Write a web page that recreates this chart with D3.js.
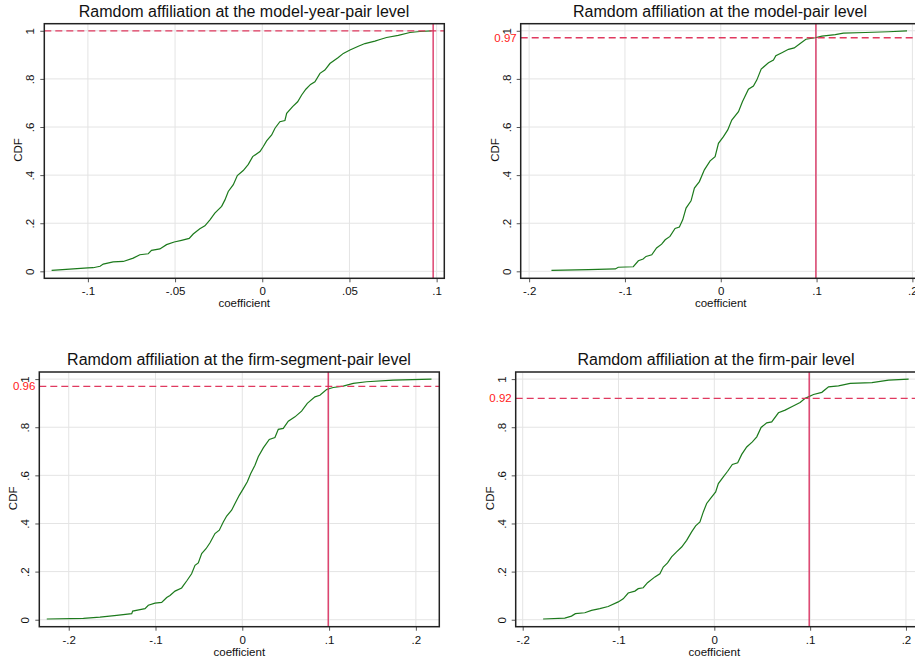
<!DOCTYPE html>
<html>
<head>
<meta charset="utf-8">
<script src="https://cdn.jsdelivr.net/npm/d3@7"></script>
<style>
  body { margin: 0; background: #fff; }
  svg { display: block; font-family: "Liberation Sans", Arial, Helvetica, sans-serif; }
</style>
</head>
<body>
<svg id="chart" width="915" height="664"></svg>
<script>
// titles, one per panel
var titles = [
  "Ramdom affiliation at the model-year-pair level",
  "Ramdom affiliation at the model-pair level",
  "Ramdom affiliation at the firm-segment-pair level",
  "Ramdom affiliation at the firm-pair level"
];

// CDF curves: [coefficient, cdf]
var cdfModelYear = [
  [-0.1208,0.004],[-0.1,0.014],[-0.097,0.015],[-0.093,0.021],[-0.0912,0.030],[-0.0855,0.039],
  [-0.0797,0.041],[-0.074,0.055],[-0.0702,0.069],[-0.0654,0.073],[-0.0635,0.087],[-0.0587,0.093],
  [-0.0549,0.111],[-0.0505,0.122],[-0.0463,0.129],[-0.0419,0.137],[-0.0396,0.155],[-0.0358,0.177],
  [-0.0329,0.189],[-0.030,0.214],[-0.0272,0.242],[-0.0233,0.270],[-0.0214,0.297],[-0.0195,0.332],
  [-0.0166,0.360],[-0.0143,0.398],[-0.0109,0.419],[-0.0080,0.445],[-0.0055,0.477],[-0.0013,0.498],
  [0.0006,0.519],[0.0025,0.542],[0.0054,0.567],[0.0073,0.595],[0.0101,0.622],[0.013,0.627],
  [0.014,0.657],[0.0174,0.685],[0.0203,0.705],[0.0226,0.733],[0.025,0.757],[0.0277,0.777],
  [0.0302,0.788],[0.0331,0.823],[0.0359,0.837],[0.0388,0.864],[0.0436,0.889],[0.0465,0.906],
  [0.0503,0.920],[0.0551,0.936],[0.0589,0.947],[0.0646,0.957],[0.0675,0.964],[0.0713,0.972],
  [0.078,0.981],[0.0847,0.993],[0.0904,0.997],[0.0971,1.0]
];
var cdfModel = [
  [-0.1767,0.004],[-0.138,0.007],[-0.110,0.010],[-0.107,0.017],[-0.0913,0.019],[-0.086,0.044],
  [-0.081,0.051],[-0.078,0.062],[-0.072,0.069],[-0.067,0.097],[-0.0617,0.113],[-0.058,0.131],
  [-0.053,0.145],[-0.0477,0.178],[-0.0432,0.184],[-0.0397,0.214],[-0.0362,0.263],[-0.031,0.293],
  [-0.0275,0.346],[-0.0223,0.373],[-0.0171,0.422],[-0.0111,0.459],[-0.0059,0.477],[-0.0024,0.532],
  [0.0028,0.560],[0.0073,0.588],[0.0115,0.629],[0.0185,0.664],[0.0226,0.705],[0.0289,0.757],
  [0.0341,0.770],[0.0376,0.795],[0.0422,0.841],[0.0498,0.867],[0.055,0.878],[0.0575,0.896],
  [0.0638,0.909],[0.0707,0.923],[0.0767,0.929],[0.0829,0.947],[0.0889,0.965],[0.0986,0.971],
  [0.1056,0.978],[0.1195,0.984],[0.128,0.990],[0.151,0.993],[0.175,0.996],[0.1944,1.0]
];
var cdfFirmSegment = [
  [-0.2253,0.003],[-0.1831,0.006],[-0.164,0.011],[-0.1447,0.018],[-0.1274,0.025],[-0.1263,0.036],
  [-0.1178,0.042],[-0.1121,0.046],[-0.1083,0.060],[-0.1006,0.069],[-0.0929,0.072],[-0.0871,0.092],
  [-0.0833,0.101],[-0.0775,0.119],[-0.0699,0.132],[-0.0641,0.161],[-0.0584,0.191],[-0.0545,0.226],
  [-0.0507,0.236],[-0.0468,0.275],[-0.0418,0.295],[-0.0372,0.320],[-0.0315,0.358],[-0.0265,0.372],
  [-0.0219,0.406],[-0.018,0.431],[-0.0123,0.455],[-0.0084,0.483],[-0.0035,0.517],[0.0012,0.545],
  [0.0058,0.573],[0.0096,0.607],[0.0146,0.642],[0.0184,0.677],[0.0242,0.714],[0.0311,0.749],
  [0.0376,0.757],[0.0415,0.791],[0.0472,0.795],[0.053,0.825],[0.0607,0.843],[0.0683,0.867],
  [0.0749,0.899],[0.0837,0.926],[0.0894,0.933],[0.0971,0.957],[0.1048,0.965],[0.1163,0.971],
  [0.1278,0.982],[0.1432,0.989],[0.1739,0.996],[0.218,1.0]
];
var cdfFirm = [
  [-0.1787,0.003],[-0.1561,0.007],[-0.1491,0.015],[-0.145,0.025],[-0.1352,0.029],[-0.1282,0.039],
  [-0.1195,0.046],[-0.1108,0.055],[-0.1003,0.074],[-0.0951,0.087],[-0.0899,0.111],[-0.0829,0.119],
  [-0.0794,0.129],[-0.0742,0.133],[-0.0697,0.154],[-0.062,0.178],[-0.0568,0.191],[-0.0533,0.219],
  [-0.0488,0.236],[-0.0446,0.261],[-0.0394,0.282],[-0.0341,0.302],[-0.0289,0.330],[-0.0237,0.365],
  [-0.0195,0.390],[-0.015,0.406],[-0.0115,0.448],[-0.008,0.483],[-0.0035,0.506],[0.0014,0.531],
  [0.0042,0.566],[0.0094,0.594],[0.0139,0.617],[0.0188,0.645],[0.0244,0.652],[0.0286,0.687],
  [0.0338,0.718],[0.0397,0.739],[0.0443,0.760],[0.0488,0.799],[0.0547,0.818],[0.0599,0.822],
  [0.0669,0.860],[0.0739,0.871],[0.0808,0.885],[0.0895,0.903],[0.0948,0.920],[0.1035,0.936],
  [0.1122,0.945],[0.1192,0.968],[0.1296,0.972],[0.1418,0.982],[0.1645,0.985],[0.1819,0.996],
  [0.2028,1.0]
];

// reference lines
var cutX = [0.098, 0.0993, 0.099, 0.099];
var cutY = [1, 0.971, 0.9695, 0.9196];
var cutLabels = [null, "0.97", "0.96", "0.92"];

// axis ticks
var xTicksNarrow = [-0.1, -0.05, 0, 0.05, 0.1];
var xLabelsNarrow = ["-.1", "-.05", "0", ".05", ".1"];
var xTicksWide = [-0.2, -0.1, 0, 0.1, 0.2];
var xLabelsWide = ["-.2", "-.1", "0", ".1", ".2"];
var yTicks = [0, 0.2, 0.4, 0.6, 0.8, 1];
var yLabels = ["0", ".2", ".4", ".6", ".8", "1"];

var curves = [cdfModelYear, cdfModel, cdfFirmSegment, cdfFirm];

// plot boxes and x extents of each panel
var panels = [
  {left: 44.3, top: 23.7, right: 444.3, bottom: 278.3, xd: [-0.125, 0.1044], ticks: xTicksNarrow, labels: xLabelsNarrow, tx: 244},
  {left: 520.7, top: 23.7, right: 921, bottom: 278.3, xd: [-0.2088, 0.209], ticks: xTicksWide, labels: xLabelsWide, tx: 720},
  {left: 39.3, top: 372, right: 439.3, bottom: 626.7, xd: [-0.2339, 0.227], ticks: xTicksWide, labels: xLabelsWide, tx: 239},
  {left: 515.7, top: 372, right: 921, bottom: 626.7, xd: [-0.2073, 0.2157], ticks: xTicksWide, labels: xLabelsWide, tx: 716}
];

var svg = d3.select('#chart');

panels.forEach(function(p, i) {
  var x = d3.scaleLinear().domain(p.xd).range([p.left, p.right]);
  var y = d3.scaleLinear().domain([-0.029, 1.0295]).range([p.bottom, p.top]);
  var g = svg.append('g');

  // grid
  g.selectAll('.gy').data(yTicks).enter().append('line')
    .attr('x1', p.left).attr('x2', p.right)
    .attr('y1', d => y(d)).attr('y2', d => y(d))
    .attr('stroke', '#e4e4e4').attr('stroke-width', 1);
  g.selectAll('.gx').data(p.ticks).enter().append('line')
    .attr('x1', d => x(d)).attr('x2', d => x(d))
    .attr('y1', p.top).attr('y2', p.bottom)
    .attr('stroke', '#e4e4e4').attr('stroke-width', 1);

  // x axis
  var xAxis = d3.axisBottom(x).tickValues(p.ticks)
    .tickFormat((d, k) => p.labels[k]).tickSize(4).tickSizeOuter(0);
  var ax = g.append('g').attr('transform', 'translate(0,' + p.bottom + ')').call(xAxis);
  ax.select('.domain').remove();
  ax.selectAll('.tick line').attr('stroke', '#555');
  ax.selectAll('.tick text').attr('font-size', 11.5).attr('fill', '#111').attr('dy', null).attr('y', 17);

  // y axis
  var yAxis = d3.axisLeft(y).tickValues(yTicks)
    .tickFormat((d, k) => yLabels[k]).tickSize(4).tickSizeOuter(0);
  var ay = g.append('g').attr('transform', 'translate(' + p.left + ',0)').call(yAxis);
  ay.select('.domain').remove();
  ay.selectAll('.tick line').attr('stroke', '#555');
  ay.selectAll('.tick text')
    .attr('font-size', 11.5).attr('fill', '#111')
    .attr('x', null).attr('dy', null)
    .attr('text-anchor', 'middle')
    .attr('transform', 'translate(-10,0) rotate(-90)');

  // curve
  var line = d3.line().x(d => x(d[0])).y(d => y(d[1]));
  g.append('path').datum(curves[i]).attr('d', line)
    .attr('fill', 'none').attr('stroke', '#1c7a1c').attr('stroke-width', 1.2);

  // reference lines
  g.append('line')
    .attr('x1', p.left).attr('x2', p.right)
    .attr('y1', y(cutY[i])).attr('y2', y(cutY[i]))
    .attr('stroke', '#e0395f').attr('stroke-width', 1.3).attr('stroke-dasharray', '7,4');
  g.append('line')
    .attr('x1', x(cutX[i])).attr('x2', x(cutX[i]))
    .attr('y1', p.top).attr('y2', p.bottom)
    .attr('stroke', '#d8285a').attr('stroke-width', 1.3);
  if (cutLabels[i]) {
    g.append('text').attr('x', p.left - 4).attr('y', y(cutY[i]) + 4)
      .attr('text-anchor', 'end').attr('font-size', 11.5).attr('fill', '#ff2020')
      .text(cutLabels[i]);
  }

  // frame
  g.append('rect').attr('x', p.left).attr('y', p.top)
    .attr('width', p.right - p.left).attr('height', p.bottom - p.top)
    .attr('fill', 'none').attr('stroke', '#222').attr('stroke-width', 1.5);

  // titles
  g.append('text').attr('x', p.tx)
    .attr('y', p.top - 7).attr('text-anchor', 'middle')
    .attr('font-size', 16).attr('fill', '#111').text(titles[i]);
  g.append('text').attr('x', x(0) - (i === 0 ? 18 : 0) + (i === 2 ? -3 : 0))
    .attr('y', p.bottom + 29).attr('text-anchor', 'middle')
    .attr('font-size', 11.5).attr('fill', '#111').text('coefficient');
  g.append('text')
    .attr('transform', 'translate(' + (p.left - 22) + ',' + ((p.top + p.bottom) / 2 - 1) + ') rotate(-90)')
    .attr('text-anchor', 'middle').attr('font-size', 11.5).attr('fill', '#111').text('CDF');
});
</script>
</body>
</html>
